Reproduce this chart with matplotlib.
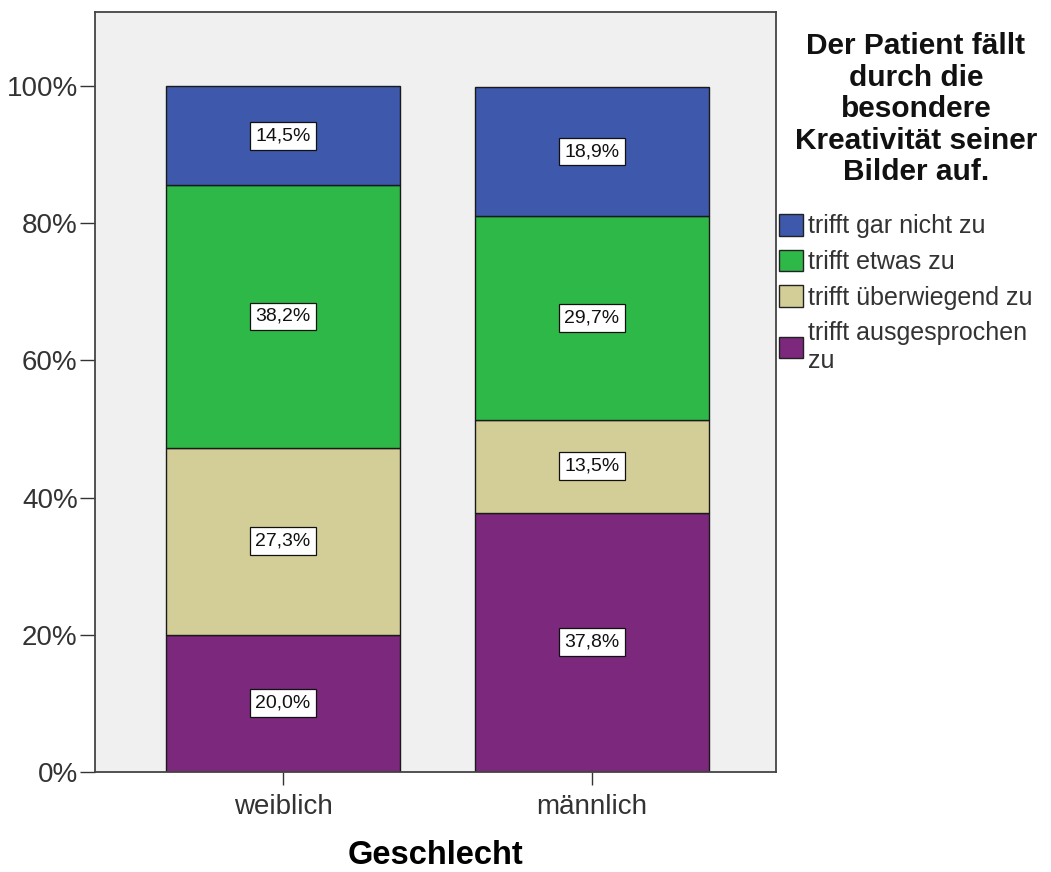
import matplotlib
matplotlib.use("Agg")
import matplotlib.pyplot as plt
from matplotlib.patches import Patch
import numpy as np

plt.rcParams['font.family'] = ['Liberation Sans', 'DejaVu Sans']

categories = ["weiblich", "männlich"]
series_names = ["trifft gar nicht zu", "trifft etwas zu", "trifft überwiegend zu",
                "trifft ausgesprochen\nzu"]
# values per series (top to bottom in legend), percent
gar_nicht = [14.5, 18.9]
etwas = [38.2, 29.7]
ueberwiegend = [27.3, 13.5]
ausgesprochen = [20.0, 37.8]
colors = ["#3E58AC", "#2EB848", "#D3CE97", "#7C287D"]
y_ticks = [0, 20, 40, 60, 80, 100]
y_ticklabels = ["0%", "20%", "40%", "60%", "80%", "100%"]
legend_title = "Der Patient fällt\ndurch die\nbesondere\nKreativität seiner\nBilder auf."
x_label = "Geschlecht"

W, H = 1051, 872
fig = plt.figure(figsize=(W / 100, H / 100), dpi=100)
fig.patch.set_facecolor("white")
ax = fig.add_axes([95 / W, 1 - 772 / H, (776 - 95) / W, (772 - 12) / H])
ax.set_facecolor("#F0F0F0")

x = np.arange(len(categories))
width = 0.757
stack_order = [ausgesprochen, ueberwiegend, etwas, gar_nicht]
stack_colors = [colors[3], colors[2], colors[1], colors[0]]
bottom = np.zeros(len(categories))
for vals, col in zip(stack_order, stack_colors):
    vals = np.array(vals)
    ax.bar(x, vals, width, bottom=bottom, color=col, edgecolor="#1a1a1a",
           linewidth=1.0, zorder=2)
    for xi, b, v in zip(x, bottom, vals):
        ax.text(xi, b + v / 2, f"{v:.1f}%".replace(".", ","), ha="center",
                va="center", fontsize=14, color="#111", zorder=3,
                bbox=dict(boxstyle="square,pad=0.28", facecolor="white",
                          edgecolor="#111", linewidth=0.9))
    bottom = bottom + vals

ax.set_xlim(-0.6084, 1.5955)
ax.set_ylim(0, 100 * (772 - 12) / 686)
ax.set_yticks(y_ticks)
ax.set_yticklabels(y_ticklabels)
ax.set_xticks(x)
ax.set_xticklabels(categories)
ax.tick_params(axis="both", labelsize=20, length=10.5, width=1.0,
               color="#333", labelcolor="#333333", direction="out", pad=2)
ax.tick_params(axis="x", length=9.5, pad=6)
for s in ax.spines.values():
    s.set_color("#444")
    s.set_linewidth(1.3)
ax.set_xlabel(x_label, fontsize=23.5, fontweight="bold", labelpad=15)

fig.text(916 / W, 1 - 32 / H, legend_title, ha="center", va="top",
         fontsize=21.5, fontweight="bold", linespacing=1.16, color="#111")

handles = [Patch(facecolor=c, edgecolor="#222", linewidth=1.0) for c in colors]
fig.legend(handles, series_names, loc="upper left",
           bbox_to_anchor=(779 / W, 1 - 214 / H), frameon=False,
           fontsize=18, handlelength=0.95, handleheight=0.95,
           handletextpad=0.2, labelspacing=0.45, borderpad=0,
           borderaxespad=0, labelcolor="#333333")

fig.savefig("out.png", dpi=100)
